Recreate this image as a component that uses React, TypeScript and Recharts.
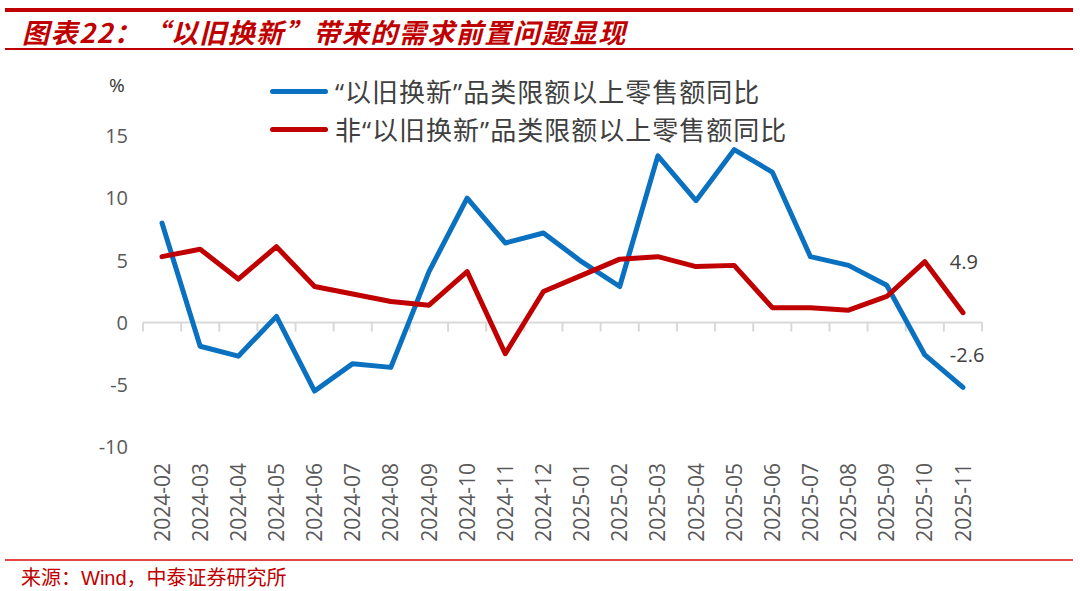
import React from 'react'
import {
  LineChart,
  Line,
  XAxis,
  YAxis,
  ReferenceLine,
  LabelList,
} from 'recharts'

document.body.style.margin = '0'

const months = [
  '2024-02', '2024-03', '2024-04', '2024-05', '2024-06', '2024-07',
  '2024-08', '2024-09', '2024-10', '2024-11', '2024-12', '2025-01',
  '2025-02', '2025-03', '2025-04', '2025-05', '2025-06', '2025-07',
  '2025-08', '2025-09', '2025-10', '2025-11',
]

const tradeInValues = [
  8.0, -1.9, -2.7, 0.5, -5.5, -3.3, -3.6, 4.1, 10.0, 6.4, 7.2, 4.9,
  2.9, 13.4, 9.8, 13.9, 12.1, 5.3, 4.6, 3.0, -2.6, -5.2,
]

const otherValues = [
  5.3, 5.9, 3.5, 6.1, 2.9, 2.3, 1.7, 1.4, 4.1, -2.5, 2.5, 3.8,
  5.1, 5.3, 4.5, 4.6, 1.2, 1.2, 1.0, 2.1, 4.9, 0.8,
]

const yTicks = [-10, -5, 0, 5, 10, 15]

const tradeInName = '“以旧换新”品类限额以上零售额同比'
const otherName = '非“以旧换新”品类限额以上零售额同比'
const labelledMonth = '2025-10'

const BLUE = '#0a70c0'
const RED = '#c00000'
const GREY_TEXT = '#595959'
const LATIN = '"Open Sans", "Noto Sans", sans-serif'
const CJK = '"Noto Sans CJK SC", "Noto Sans", sans-serif'
const MIXED = '"Open Sans", "Noto Sans CJK SC", sans-serif'
const ARIAL_CJK = '"Liberation Sans", "Noto Sans CJK SC", sans-serif'

const series = [
  { key: 'tradeIn', name: tradeInName, color: BLUE },
  { key: 'other', name: otherName, color: RED },
]

const data = months.map((m, i) => ({
  month: m,
  tradeIn: tradeInValues[i],
  other: otherValues[i],
}))

function MonthTick({ x, y, payload }: any) {
  return (
    <text
      x={0}
      y={0}
      dy="0.36em"
      textAnchor="end"
      transform={`translate(${x},${y + 8}) rotate(-90)`}
      fill={GREY_TEXT}
      fontSize={21}
      fontFamily={LATIN}
    >
      {payload.value}
    </text>
  )
}

// zero axis drawn Excel-style: ticks sit between categories
function ZeroAxis({ x1, y1, x2 }: any) {
  const left = Math.min(x1, x2)
  const right = Math.max(x1, x2)
  const step = (right - left) / months.length
  return (
    <g>
      <line x1={left} y1={y1} x2={right} y2={y1} stroke="#d9d9d9" strokeWidth={2} />
      {Array.from({ length: months.length + 1 }, (_, i) => (
        <line
          key={i}
          x1={left + i * step}
          x2={left + i * step}
          y1={y1}
          y2={y1 + 9}
          stroke="#d9d9d9"
          strokeWidth={2}
        />
      ))}
    </g>
  )
}

function EndLabel({ x, y, value, index }: any) {
  if (months[index] !== labelledMonth) return null
  return (
    <text
      x={x + 25}
      y={y}
      dy="0.35em"
      fill="#404040"
      fontSize={20}
      fontFamily={LATIN}
    >
      {value}
    </text>
  )
}

export default function App() {
  return (
    <div style={{ position: 'relative', width: 1080, height: 591, background: '#fff', overflow: 'hidden' }}>
      <div style={{ position: 'absolute', left: 5, top: 8, width: 1068, height: 4, background: RED }} />
      <div
        style={{
          position: 'absolute',
          left: 22,
          top: 12,
          fontFamily: CJK,
          fontSize: 27,
          fontWeight: 700,
          fontStyle: 'italic',
          color: RED,
          whiteSpace: 'nowrap',
          letterSpacing: 1.5,
        }}
      >
        图表22：“以旧换新”带来的需求前置问题显现
      </div>
      <div style={{ position: 'absolute', left: 5, top: 48, width: 1068, height: 2, background: RED }} />

      <div
        style={{
          position: 'absolute',
          left: 109,
          top: 72,
          fontFamily: LATIN,
          fontSize: 19,
          color: '#333',
        }}
      >
        %
      </div>

      <div style={{ position: 'absolute', left: 270, top: 75, display: 'flex', flexDirection: 'column', gap: 6 }}>
        {series.map((s) => (
          <div key={s.key} style={{ display: 'flex', alignItems: 'center', height: 32 }}>
            <span
              style={{
                display: 'inline-block',
                width: 58,
                height: 5,
                borderRadius: 3,
                background: s.color,
                marginRight: 7,
              }}
            />
            <span
              style={{
                fontFamily: MIXED,
                fontSize: 26,
                letterSpacing: 1,
                color: '#404040',
                whiteSpace: 'nowrap',
              }}
            >
              {s.name}
            </span>
          </div>
        ))}
      </div>

      <div style={{ position: 'absolute', left: 0, top: 0 }}>
        <LineChart
          width={1080}
          height={591}
          data={data}
          margin={{ top: 136, right: 98, bottom: 44, left: 83 }}
        >
          <XAxis
            dataKey="month"
            axisLine={false}
            tickLine={false}
            interval={0}
            height={100}
            padding={{ left: 19, right: 19 }}
            tick={<MonthTick />}
          />
          <YAxis
            domain={[-10, 15]}
            ticks={yTicks}
            width={60}
            axisLine={false}
            tickLine={false}
            tickMargin={9}
            tick={{ fill: GREY_TEXT, fontSize: 20, fontFamily: LATIN }}
          />
          <ReferenceLine y={0} shape={<ZeroAxis />} />
          {series.map((s) => (
            <Line
              key={s.key}
              dataKey={s.key}
              name={s.name}
              stroke={s.color}
              strokeWidth={5}
              strokeLinejoin="round"
              strokeLinecap="round"
              dot={false}
              activeDot={false}
              isAnimationActive={false}
            >
              <LabelList dataKey={s.key} content={<EndLabel />} />
            </Line>
          ))}
        </LineChart>
      </div>

      <div style={{ position: 'absolute', left: 5, top: 559, width: 1068, height: 2, background: '#e04848' }} />
      <div
        style={{
          position: 'absolute',
          left: 21,
          top: 562,
          fontFamily: ARIAL_CJK,
          fontSize: 20,
          color: RED,
          whiteSpace: 'nowrap',
        }}
      >
        来源：Wind，中泰证券研究所
      </div>
    </div>
  )
}
